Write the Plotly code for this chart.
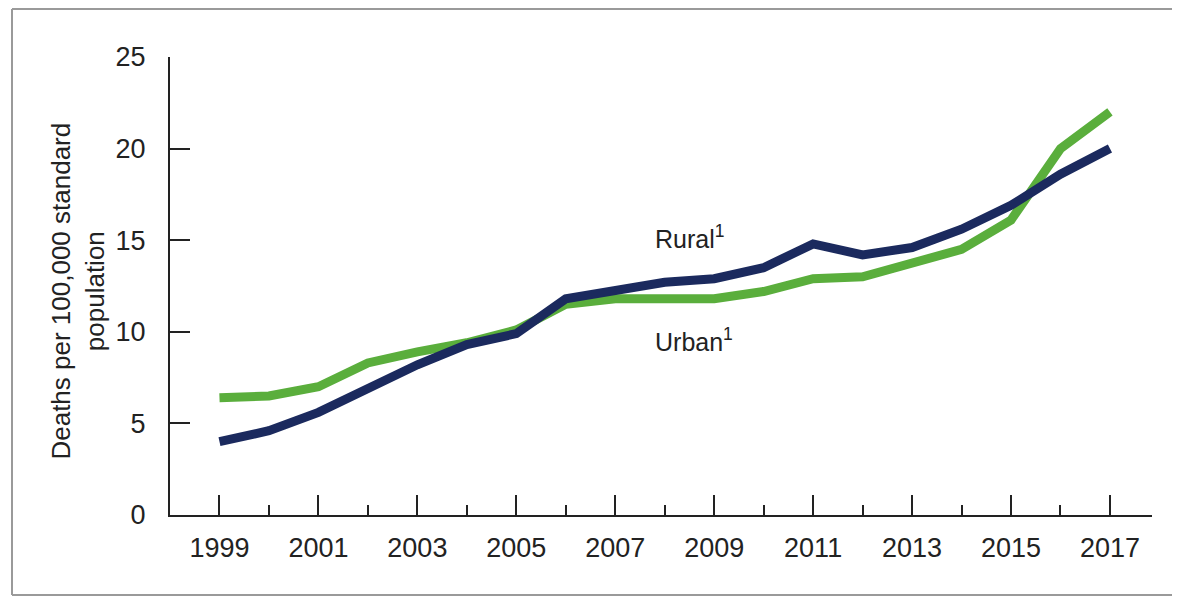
import plotly.graph_objects as go

years = list(range(1999, 2018))
rural = [4.0, 4.6, 5.6, 6.9, 8.2, 9.3, 9.9, 11.8, 12.3, 12.7, 12.9, 13.5, 14.8, 14.2, 14.6, 15.6, 16.9, 18.6, 20.0]
urban = [6.4, 6.5, 7.0, 8.3, 8.9, 9.4, 10.1, 11.5, 11.8, 11.8, 11.8, 12.2, 12.9, 13.0, 13.7, 14.5, 16.1, 20.0, 22.0]

navy = "#1b2a5e"
green = "#5aae3c"
ink = "#222222"

fig = go.Figure()
fig.add_trace(go.Scatter(x=years, y=urban, mode="lines", name="Urban",
                         line=dict(color=green, width=9)))
fig.add_trace(go.Scatter(x=years, y=rural, mode="lines", name="Rural",
                         line=dict(color=navy, width=9)))

fig.add_annotation(x=2007.77, y=15.2, text="Rural<sup>1</sup>", showarrow=False,
                   xanchor="left", font=dict(size=25, color=ink))
fig.add_annotation(x=2007.77, y=9.55, text="Urban<sup>1</sup>", showarrow=False,
                   xanchor="left", font=dict(size=25, color=ink))

# y-axis title, placed by hand
fig.add_annotation(xref="paper", yref="paper", x=-0.0937, y=0.49,
                   xanchor="center", yanchor="middle",
                   text="Deaths per 100,000 standard<br>population",
                   textangle=-90, showarrow=False,
                   font=dict(size=26, color=ink))

# frame: top, left and bottom edges only (right edge is off the picture)
frame = dict(color="#9a9a9a", width=2)
right = 1.0285
fig.add_shape(type="line", xref="paper", yref="paper",
              x0=-0.1609, x1=right, y0=1.1048, y1=1.1048, line=frame)
fig.add_shape(type="line", xref="paper", yref="paper",
              x0=-0.1609, x1=-0.1609, y0=-0.1747, y1=1.1048, line=frame)
fig.add_shape(type="line", xref="paper", yref="paper",
              x0=-0.1609, x1=right, y0=-0.1747, y1=-0.1747, line=frame)

fig.update_xaxes(range=[1998.0, 2017.85], tickvals=list(range(1999, 2018, 2)),
                 ticks="inside", ticklen=20, tickwidth=2, tickcolor=ink,
                 showline=True, linecolor=ink, linewidth=2, showgrid=False,
                 zeroline=False, tickfont=dict(size=27, color=ink),
                 ticklabelstandoff=8, automargin=False,
                 minor=dict(tickvals=list(range(2000, 2017, 2)), ticks="inside",
                            ticklen=10, tickwidth=2, tickcolor=ink, showgrid=False))
fig.update_yaxes(range=[0, 25], tickvals=[0, 5, 10, 15, 20, 25],
                 ticks="inside", ticklen=20, tickwidth=2, tickcolor=ink,
                 showline=True, linecolor=ink, linewidth=2, showgrid=False,
                 zeroline=False, tickfont=dict(size=27, color=ink),
                 ticklabelstandoff=17, automargin=False)

fig.update_layout(width=1172, height=588, showlegend=False,
                  plot_bgcolor="white", paper_bgcolor="white",
                  font=dict(family="Liberation Sans, Arial, sans-serif", color=ink),
                  margin=dict(l=162, r=28, t=49, b=81))

fig.write_html("out.html")
